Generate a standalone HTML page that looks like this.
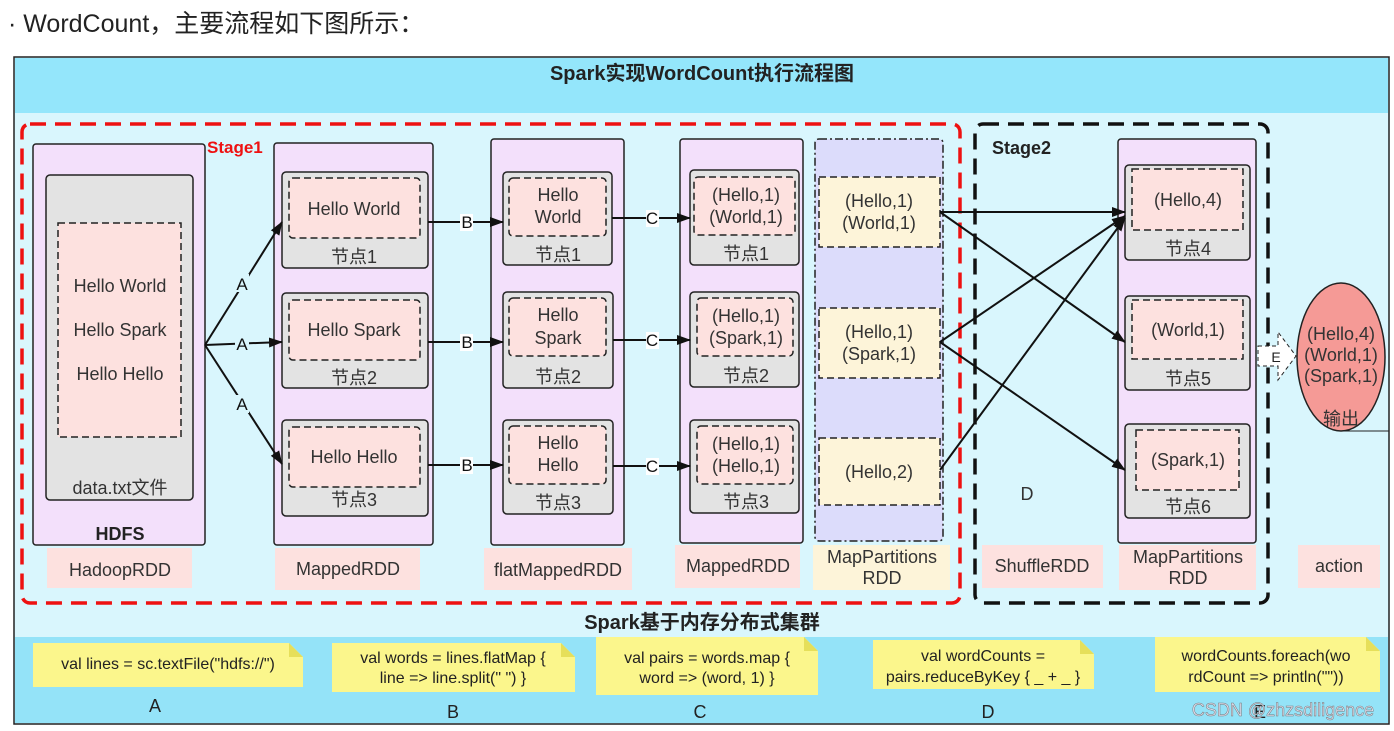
<!DOCTYPE html>
<html><head><meta charset="utf-8"><style>
html,body{margin:0;padding:0;background:#fff;}
svg{display:block;}
text{font-family:"Liberation Sans","Noto Sans CJK SC",sans-serif;}
</style></head><body>
<svg width="1394" height="731" viewBox="0 0 1394 731" xmlns="http://www.w3.org/2000/svg">
<defs>
<marker id="ar" markerWidth="14" markerHeight="14" refX="13" refY="7" orient="auto" markerUnits="userSpaceOnUse"><path d="M0,2 L14,7 L0,12 z" fill="#111"/></marker>
</defs>
<text x="8" y="32" font-size="25" fill="#222">· WordCount，主要流程如下图所示：</text>
<rect x="14" y="57" width="1375" height="667" fill="#d9f6fd" stroke="#222" stroke-width="1.5"/>
<rect x="15" y="58" width="1373" height="55" fill="#94e6fb"/>
<rect x="15" y="637" width="1373" height="86" fill="#94e3f8"/>
<text x="702" y="80" font-size="20" font-weight="bold" text-anchor="middle" fill="#222">Spark实现WordCount执行流程图</text>
<text x="702" y="629" font-size="20" font-weight="bold" text-anchor="middle" fill="#222">Spark基于内存分布式集群</text>
<rect x="22" y="124" width="938" height="479" rx="8" fill="none" stroke="#ee1111" stroke-width="3.5" stroke-dasharray="16,9"/>
<text x="207" y="153" font-size="17" font-weight="bold" fill="#ee1111">Stage1</text>
<rect x="975" y="124" width="293" height="479" rx="8" fill="none" stroke="#111" stroke-width="3.5" stroke-dasharray="16,9"/>
<text x="992" y="154" font-size="18" font-weight="bold" fill="#222">Stage2</text>

<g font-size="18" fill="#333" text-anchor="middle">
<rect x="33" y="144" width="172" height="401" rx="3" fill="#f3e0fb" stroke="#222" stroke-width="1.5"/>
<rect x="46" y="175" width="147" height="325" rx="4" fill="#e3e3e3" stroke="#222" stroke-width="1.5"/>
<rect x="58" y="223" width="123" height="214" fill="#fde1df" stroke="#222" stroke-width="1.5" stroke-dasharray="7,4"/>
<text x="120" y="292">Hello World</text>
<text x="120" y="336">Hello Spark</text>
<text x="120" y="380">Hello Hello</text>
<text x="120" y="494">data.txt文件</text>
<text x="120" y="540" font-weight="bold" fill="#222">HDFS</text>
<rect x="47" y="548" width="145" height="40" fill="#fde1df"/>
<text x="120" y="576">HadoopRDD</text>

<rect x="274" y="143" width="159" height="402" rx="3" fill="#f3e0fb" stroke="#222" stroke-width="1.5"/>
<rect x="282" y="172" width="146" height="96" rx="4" fill="#e3e3e3" stroke="#222" stroke-width="1.5"/>
<rect x="289" y="178" width="131" height="60" rx="4" fill="#fde1df" stroke="#222" stroke-width="1.5" stroke-dasharray="7,4"/>
<text x="354" y="215">Hello World</text><text x="354" y="263">节点1</text>
<rect x="282" y="293" width="146" height="95" rx="4" fill="#e3e3e3" stroke="#222" stroke-width="1.5"/>
<rect x="289" y="300" width="131" height="60" rx="4" fill="#fde1df" stroke="#222" stroke-width="1.5" stroke-dasharray="7,4"/>
<text x="354" y="336">Hello Spark</text><text x="354" y="384">节点2</text>
<rect x="282" y="420" width="146" height="96" rx="4" fill="#e3e3e3" stroke="#222" stroke-width="1.5"/>
<rect x="289" y="427" width="131" height="60" rx="4" fill="#fde1df" stroke="#222" stroke-width="1.5" stroke-dasharray="7,4"/>
<text x="354" y="463">Hello Hello</text><text x="354" y="506">节点3</text>
<rect x="275" y="548" width="145" height="42" fill="#fde1df"/>
<text x="348" y="575">MappedRDD</text>

<rect x="491" y="139" width="133" height="406" rx="3" fill="#f3e0fb" stroke="#222" stroke-width="1.5"/>
<rect x="503" y="172" width="109" height="93" rx="4" fill="#e3e3e3" stroke="#222" stroke-width="1.5"/>
<rect x="509" y="178" width="97" height="58" rx="4" fill="#fde1df" stroke="#222" stroke-width="1.5" stroke-dasharray="7,4"/>
<text x="558" y="201">Hello</text><text x="558" y="223">World</text><text x="558" y="261">节点1</text>
<rect x="503" y="292" width="110" height="96" rx="4" fill="#e3e3e3" stroke="#222" stroke-width="1.5"/>
<rect x="509" y="298" width="97" height="58" rx="4" fill="#fde1df" stroke="#222" stroke-width="1.5" stroke-dasharray="7,4"/>
<text x="558" y="321">Hello</text><text x="558" y="344">Spark</text><text x="558" y="383">节点2</text>
<rect x="503" y="420" width="110" height="94" rx="4" fill="#e3e3e3" stroke="#222" stroke-width="1.5"/>
<rect x="509" y="426" width="97" height="58" rx="4" fill="#fde1df" stroke="#222" stroke-width="1.5" stroke-dasharray="7,4"/>
<text x="558" y="449">Hello</text><text x="558" y="471">Hello</text><text x="558" y="509">节点3</text>
<rect x="484" y="548" width="148" height="42" fill="#fde1df"/>
<text x="558" y="576">flatMappedRDD</text>

<rect x="680" y="139" width="123" height="404" rx="3" fill="#f3e0fb" stroke="#222" stroke-width="1.5"/>
<rect x="690" y="170" width="109" height="95" rx="4" fill="#e3e3e3" stroke="#222" stroke-width="1.5"/>
<rect x="694" y="177" width="101" height="58" rx="4" fill="#fde1df" stroke="#222" stroke-width="1.5" stroke-dasharray="7,4"/>
<text x="746" y="201">(Hello,1)</text><text x="746" y="223">(World,1)</text><text x="746" y="260">节点1</text>
<rect x="690" y="292" width="109" height="95" rx="4" fill="#e3e3e3" stroke="#222" stroke-width="1.5"/>
<rect x="697" y="298" width="96" height="58" rx="4" fill="#fde1df" stroke="#222" stroke-width="1.5" stroke-dasharray="7,4"/>
<text x="746" y="322">(Hello,1)</text><text x="746" y="344">(Spark,1)</text><text x="746" y="382">节点2</text>
<rect x="690" y="420" width="109" height="93" rx="4" fill="#e3e3e3" stroke="#222" stroke-width="1.5"/>
<rect x="697" y="426" width="96" height="58" rx="4" fill="#fde1df" stroke="#222" stroke-width="1.5" stroke-dasharray="7,4"/>
<text x="746" y="450">(Hello,1)</text><text x="746" y="472">(Hello,1)</text><text x="746" y="508">节点3</text>
<rect x="675" y="545" width="125" height="43" fill="#fde1df"/>
<text x="738" y="572">MappedRDD</text>

<rect x="815" y="139" width="128" height="402" rx="4" fill="#dcdcfb" stroke="#222" stroke-width="1.5" stroke-dasharray="8,3,2,3"/>
<rect x="819" y="177" width="121" height="70" fill="#fdf4d9" stroke="#222" stroke-width="1.5" stroke-dasharray="7,4"/>
<text x="879" y="207">(Hello,1)</text><text x="879" y="229">(World,1)</text>
<rect x="819" y="308" width="121" height="70" fill="#fdf4d9" stroke="#222" stroke-width="1.5" stroke-dasharray="7,4"/>
<text x="879" y="338">(Hello,1)</text><text x="879" y="360">(Spark,1)</text>
<rect x="819" y="438" width="121" height="67" fill="#fdf4d9" stroke="#222" stroke-width="1.5" stroke-dasharray="7,4"/>
<text x="879" y="478">(Hello,2)</text>
<rect x="813" y="545" width="137" height="45" fill="#fdf4d9"/>
<text x="882" y="563">MapPartitions</text><text x="882" y="584">RDD</text>

<rect x="1118" y="139" width="138" height="404" rx="3" fill="#f3e0fb" stroke="#222" stroke-width="1.5"/>
<rect x="1125" y="165" width="125" height="95" rx="4" fill="#e3e3e3" stroke="#222" stroke-width="1.5"/>
<rect x="1132" y="169" width="111" height="61" fill="#fde1df" stroke="#222" stroke-width="1.5" stroke-dasharray="7,4"/>
<text x="1188" y="206">(Hello,4)</text><text x="1188" y="255">节点4</text>
<rect x="1125" y="296" width="125" height="94" rx="4" fill="#e3e3e3" stroke="#222" stroke-width="1.5"/>
<rect x="1132" y="300" width="111" height="59" fill="#fde1df" stroke="#222" stroke-width="1.5" stroke-dasharray="7,4"/>
<text x="1188" y="336">(World,1)</text><text x="1188" y="385">节点5</text>
<rect x="1125" y="424" width="125" height="94" rx="4" fill="#e3e3e3" stroke="#222" stroke-width="1.5"/>
<rect x="1136" y="430" width="103" height="60" fill="#fde1df" stroke="#222" stroke-width="1.5" stroke-dasharray="7,4"/>
<text x="1188" y="466">(Spark,1)</text><text x="1188" y="513">节点6</text>
<rect x="1119" y="545" width="137" height="45" fill="#fde1df"/>
<text x="1188" y="563">MapPartitions</text><text x="1188" y="584">RDD</text>

<rect x="982" y="545" width="121" height="43" fill="#fde1df"/>
<text x="1042" y="572">ShuffleRDD</text>
<rect x="1298" y="545" width="82" height="43" fill="#fde1df"/>
<text x="1339" y="572">action</text>
<text x="1027" y="500">D</text>

<ellipse cx="1341" cy="357" rx="44" ry="74" fill="#f59a96" stroke="#222" stroke-width="1.5"/>
<text x="1341" y="340">(Hello,4)</text><text x="1341" y="361">(World,1)</text><text x="1341" y="382">(Spark,1)</text>
<text x="1341" y="425">输出</text>
</g>
<line x1="1341" y1="431" x2="1389" y2="431" stroke="#222" stroke-width="1"/>
<path d="M1258,346 L1278,346 L1278,332 L1296,356 L1278,380 L1278,366 L1258,366 z" fill="#fff" stroke="#222" stroke-width="1" stroke-dasharray="4,3"/>
<text x="1276" y="362" font-size="14" fill="#222" text-anchor="middle">E</text>

<g stroke="#111" stroke-width="2" fill="none" marker-end="url(#ar)">
<line x1="205" y1="345" x2="282" y2="222"/>
<line x1="205" y1="345" x2="282" y2="342"/>
<line x1="205" y1="345" x2="282" y2="464"/>
<line x1="428" y1="222" x2="503" y2="222"/>
<line x1="428" y1="342" x2="503" y2="342"/>
<line x1="428" y1="465" x2="503" y2="465"/>
<line x1="612" y1="218" x2="690" y2="218"/>
<line x1="613" y1="340" x2="690" y2="340"/>
<line x1="613" y1="466" x2="690" y2="466"/>
</g>
<g stroke="#111" stroke-width="2" fill="none" marker-end="url(#ar)">
<line x1="940" y1="212" x2="1125" y2="212"/>
<line x1="940" y1="212" x2="1125" y2="342"/>
<line x1="940" y1="342" x2="1125" y2="216"/>
<line x1="940" y1="342" x2="1125" y2="470"/>
<line x1="940" y1="470" x2="1125" y2="218"/>
</g>
<g font-size="17" fill="#111" text-anchor="middle">
<rect x="235" y="274" width="14" height="18" fill="#d9f6fd"/><text x="242" y="290">A</text>
<rect x="235" y="335" width="14" height="18" fill="#d9f6fd"/><text x="242" y="350">A</text>
<rect x="235" y="395" width="14" height="18" fill="#d9f6fd"/><text x="242" y="410">A</text>
<rect x="460" y="214" width="13" height="17" fill="#fff"/><text x="467" y="228">B</text>
<rect x="460" y="334" width="13" height="17" fill="#fff"/><text x="467" y="348">B</text>
<rect x="460" y="457" width="13" height="17" fill="#fff"/><text x="467" y="471">B</text>
<rect x="646" y="210" width="13" height="17" fill="#fff"/><text x="652" y="224">C</text>
<rect x="646" y="332" width="13" height="17" fill="#fff"/><text x="652" y="346">C</text>
<rect x="646" y="458" width="13" height="17" fill="#fff"/><text x="652" y="472">C</text>
</g>

<g font-size="16" fill="#222" text-anchor="middle">
<path d="M33,643 L289,643 L303,657 L303,687 L33,687 z" fill="#fbf68c"/><path d="M289,643 L303,657 L289,657 z" fill="#e6df5a"/>
<text x="168" y="669">val lines = sc.textFile("hdfs://")</text>
<path d="M332,643 L561,643 L575,657 L575,692 L332,692 z" fill="#fbf68c"/><path d="M561,643 L575,657 L561,657 z" fill="#e6df5a"/>
<text x="453" y="663">val words = lines.flatMap {</text><text x="453" y="683">line =&gt; line.split(" ") }</text>
<path d="M596,637 L804,637 L818,651 L818,695 L596,695 z" fill="#fbf68c"/><path d="M804,637 L818,651 L804,651 z" fill="#e6df5a"/>
<text x="707" y="663">val pairs = words.map {</text><text x="707" y="683">word =&gt; (word, 1) }</text>
<path d="M873,640 L1080,640 L1094,654 L1094,689 L873,689 z" fill="#fbf68c"/><path d="M1080,640 L1094,654 L1080,654 z" fill="#e6df5a"/>
<text x="983" y="661">val wordCounts =</text><text x="983" y="682">pairs.reduceByKey { _ + _ }</text>
<path d="M1155,637 L1366,637 L1380,651 L1380,692 L1155,692 z" fill="#fbf68c"/><path d="M1366,637 L1380,651 L1366,651 z" fill="#e6df5a"/>
<text x="1266" y="661">wordCounts.foreach(wo</text><text x="1266" y="682">rdCount =&gt; println(""))</text>
<text x="155" y="712" font-size="18">A</text>
<text x="453" y="718" font-size="18">B</text>
<text x="700" y="718" font-size="18">C</text>
<text x="988" y="718" font-size="18">D</text>
<text x="1260" y="718" font-size="18">E</text>
</g>
<text x="1283" y="716" font-size="18" fill="#dde" text-anchor="middle" stroke="#777" stroke-width="0.5">CSDN @zhzsdiligence</text>
</svg>
</body></html>
